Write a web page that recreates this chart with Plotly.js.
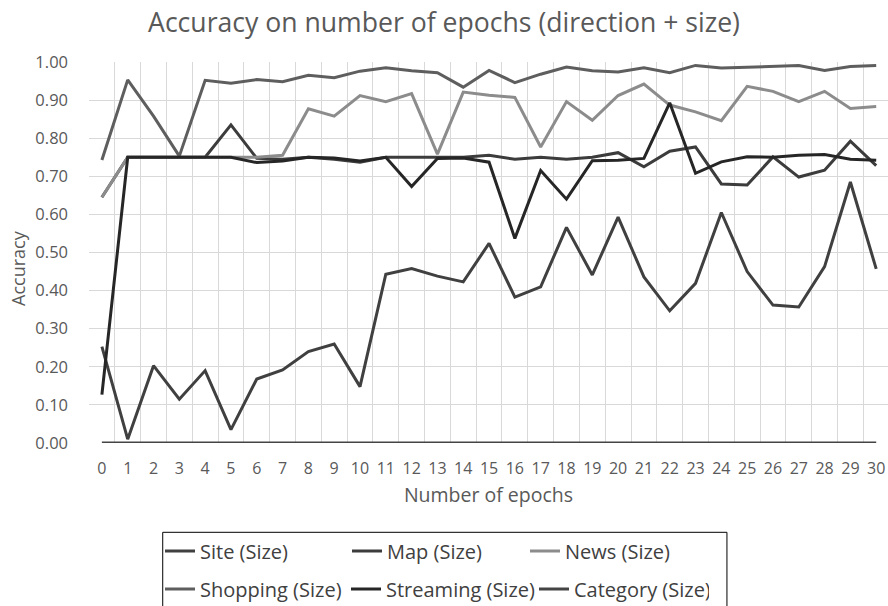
<!DOCTYPE html>
<html>
<head>
<meta charset="utf-8">
<script src="https://cdn.plot.ly/plotly-3.0.1.min.js"></script>
<style>html,body{margin:0;padding:0;background:#fff;}#chart{width:888px;height:606px;}</style>
</head>
<body>
<div id="chart"></div>
<script>
const epochs = [0,1,2,3,4,5,6,7,8,9,10,11,12,13,14,15,16,17,18,19,20,21,22,23,24,25,26,27,28,29,30];
const tickLabels = ["0","1","2","3","4","5","6","7","8","9","10","11","12","13","14","15","16","17","18","19","20","21","22","23","24","25","26","27","28","29","30"];
const seriesNames = ["Site (Size)","Map (Size)","News (Size)","Shopping (Size)","Streaming (Size)","Category (Size)"];

const site = [0.253,0.010,0.203,0.115,0.190,0.035,0.168,0.192,0.240,0.260,0.148,0.443,0.458,0.438,0.423,0.524,0.383,0.410,0.566,0.441,0.593,0.436,0.347,0.419,0.605,0.450,0.362,0.357,0.463,0.685,0.457];
const map = [0.645,0.750,0.750,0.750,0.750,0.835,0.747,0.745,0.750,0.745,0.737,0.750,0.750,0.750,0.750,0.755,0.745,0.750,0.745,0.750,0.762,0.725,0.766,0.777,0.680,0.677,0.751,0.698,0.716,0.792,0.728];
const news = [0.645,0.750,0.750,0.750,0.750,0.750,0.750,0.755,0.877,0.858,0.912,0.896,0.917,0.758,0.921,0.913,0.907,0.777,0.896,0.847,0.912,0.942,0.887,0.869,0.846,0.936,0.923,0.896,0.923,0.878,0.883];
const shopping = [0.743,0.953,0.858,0.753,0.952,0.944,0.954,0.948,0.965,0.959,0.976,0.985,0.977,0.972,0.934,0.978,0.946,0.968,0.987,0.977,0.974,0.985,0.972,0.991,0.984,0.986,0.988,0.991,0.978,0.988,0.991];
const streaming = [0.127,0.750,0.750,0.750,0.750,0.750,0.736,0.740,0.750,0.748,0.740,0.750,0.673,0.747,0.748,0.737,0.537,0.715,0.640,0.741,0.742,0.747,0.893,0.708,0.738,0.751,0.750,0.755,0.757,0.745,0.742];
const category = [0,0,0,0,0,0,0,0,0,0,0,0,0,0,0,0,0,0,0,0,0,0,0,0,0,0,0,0,0,0,0];

const seriesValues = [site, map, news, shopping, streaming, category];
const seriesColors = ["#404040","#3c3c3c","#8c8c8c","#5e5e5e","#262626","#444444"];
const legendOf = ["legend","legend","legend","legend2","legend2","legend2"];
const legendWidths = [142,133,130,141,143,130];
const xAxisOf = ["x","x","x","x","x","x2"];

const traces = seriesNames.map((name, i) => ({
  type: "scatter",
  mode: "lines",
  name: name,
  x: epochs,
  y: seriesValues[i],
  xaxis: xAxisOf[i],
  yaxis: "y",
  line: {color: seriesColors[i], width: 3},
  legend: legendOf[i],
  legendwidth: legendWidths[i],
  hoverinfo: "skip"
}));

const font = "Open Sans, Noto Sans, sans-serif";
const gridVals = epochs.map(e => e - 0.5).concat([epochs[epochs.length-1] + 0.5]);

const L = 89.3, R = 888, T = 61.7, B = 442.7;
const W = 888, H = 606;
const pxX = px => (px - L) / (R - L);
const pxY = py => (B - py) / (B - T);
const xRange = [-0.5, -0.5 + (R - L) / 25.8];

const layout = {
  width: W, height: H,
  paper_bgcolor: "#ffffff",
  plot_bgcolor: "#ffffff",
  margin: {l: L, r: W - R, t: T, b: H - B, pad: 0},
  showlegend: true,
  title: {
    text: "Accuracy on number of epochs (direction + size)",
    font: {family: font, size: 26.6, color: "#595959"},
    xref: "container", x: 0.5, xanchor: "center",
    yref: "container", y: 1 - 23/H, yanchor: "middle"
  },
  xaxis: {
    range: xRange,
    tickmode: "array",
    tickvals: gridVals,
    showticklabels: false,
    showgrid: true, gridcolor: "#d9d9d9", gridwidth: 1,
    zeroline: false, showline: false, ticks: "",
    fixedrange: true
  },
  xaxis2: {
    overlaying: "x",
    anchor: "y",
    side: "bottom",
    range: xRange,
    tickmode: "array",
    tickvals: epochs,
    ticktext: tickLabels,
    ticklabelstandoff: 14,
    showgrid: false,
    zeroline: false, showline: false, ticks: "",
    tickfont: {family: font, size: 16, color: "#595959"},
    title: {text: "Number of epochs", font: {family: font, size: 19.5, color: "#595959"}, standoff: 10},
    fixedrange: true
  },
  yaxis: {
    range: [0, 1],
    tickmode: "linear", tick0: 0, dtick: 0.1,
    tickformat: ".2f",
    showgrid: true, gridcolor: "#d9d9d9", gridwidth: 1,
    zeroline: false, showline: false, ticks: "",
    ticklabelstandoff: 20,
    tickfont: {family: font, size: 16.5, color: "#595959"},
    fixedrange: true
  },
  annotations: [{
    text: "Accuracy",
    xref: "paper", yref: "paper",
    x: pxX(19), y: pxY(268),
    xanchor: "center", yanchor: "middle",
    textangle: -90, showarrow: false,
    font: {family: font, size: 18, color: "#595959"}
  }],
  legend: {
    orientation: "h",
    xref: "container", yref: "container",
    x: 160 / W, xanchor: "left",
    y: 1 - 551 / H, yanchor: "middle",
    font: {family: font, size: 20, color: "#404040"},
    bgcolor: "rgba(0,0,0,0)",
    borderwidth: 0,
    itemwidth: 30,
    tracegroupgap: 0
  },
  legend2: {
    orientation: "h",
    xref: "container", yref: "container",
    x: 160 / W, xanchor: "left",
    y: 1 - 589 / H, yanchor: "middle",
    font: {family: font, size: 20, color: "#404040"},
    bgcolor: "rgba(0,0,0,0)",
    borderwidth: 0,
    itemwidth: 30,
    tracegroupgap: 0
  },
  shapes: [{
    type: "rect", xref: "paper", yref: "paper",
    x0: pxX(163), x1: pxX(727), y0: pxY(532), y1: pxY(640),
    line: {color: "#000000", width: 1}, fillcolor: "rgba(0,0,0,0)", layer: "above"
  }]
};

Plotly.newPlot("chart", traces, layout, {staticPlot: true, displayModeBar: false});
</script>
</body>
</html>
